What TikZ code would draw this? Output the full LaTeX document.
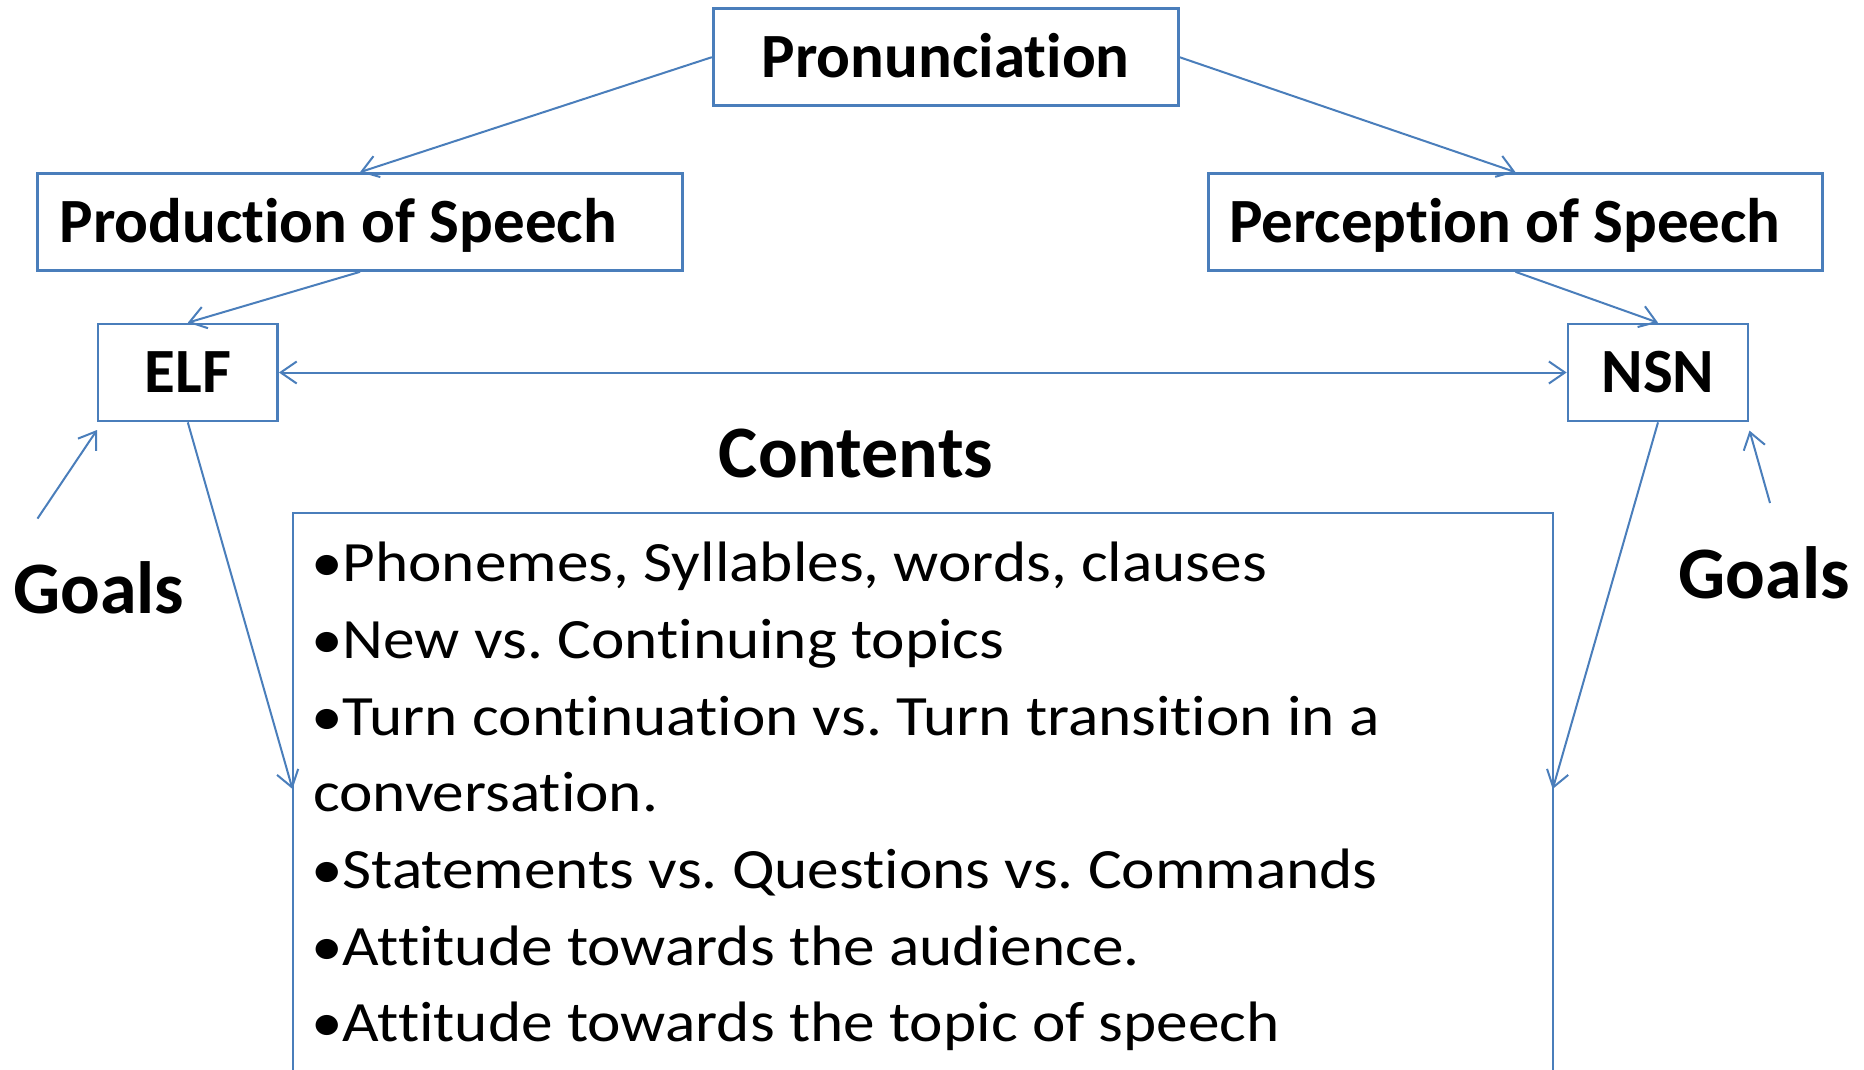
\documentclass[tikz,border=0pt]{standalone}
\usepackage{fontspec}
\setmainfont[Ligatures=NoCommon]{Carlito}
\newfontfamily\mybodyfam[Ligatures=NoCommon, FakeStretch=1.11]{Carlito}
\usetikzlibrary{arrows.meta}
\definecolor{lineblue}{RGB}{74,126,187}
\frenchspacing
\newcommand\myheadfont{\fontsize{63}{75}\selectfont\bfseries}
\newcommand\mybigfont{\fontsize{74}{88}\selectfont\bfseries}
\newcommand\mybodyfont{\mybodyfam\fontsize{57}{68}\selectfont}
\begin{document}
\begin{tikzpicture}[x=1pt,y=-1pt,
  box/.style={draw=lineblue, line width=2.7pt, minimum height=97pt, inner sep=0pt,
              font=\myheadfont, text height=40pt, text depth=0pt},
  conn/.style={draw=lineblue, line width=2pt, -{Straight Barb[length=16pt,width=22pt]}},
  dconn/.style={draw=lineblue, line width=2pt, {Straight Barb[length=16pt,width=22pt]}-{Straight Barb[length=16pt,width=22pt]}},
  bodyline/.style={font=\mybodyfont, anchor=base west, inner sep=0pt},
  bigtext/.style={font=\mybigfont, inner sep=0pt}
]
\useasboundingbox (0,0) rectangle (1864,1070);

\node[box, minimum width=465pt] (pron) at (945.7,57.2) {Pronunciation};
\node[box, minimum width=645pt, text width=601pt, inner xsep=22pt, align=flush left] (prod) at (360,222) {Production of Speech};
\node[box, minimum width=614pt, text width=573pt, inner xsep=20.5pt, align=flush left] (perc) at (1515.5,222) {Perception of Speech};
\node[box, minimum width=179.6pt] (elf) at (187.8,372.5) {ELF};
\node[box, minimum width=180pt] (nsn) at (1658,372.5) {NSN};

\node[draw=lineblue, line width=2pt, minimum width=1260pt, minimum height=590pt, inner sep=0pt, anchor=north] (cbox) at (922.6,512) {};

\node[bigtext, text height=46pt, text depth=0pt] (contents) at (856,454.6) {Contents};
\node[bigtext, anchor=base west] (goalsl) at (13,613.5) {Goals};
\node[bigtext, anchor=base east] (goalsr) at (1850,598) {Goals};

\node[bodyline] (l1) at (311,581) {•Phonemes, Syllables, words, clauses};
\node[bodyline] (l2) at (311,658) {•New vs. Continuing topics};
\node[bodyline] (l3) at (311,735) {•Turn continuation vs. Turn transition in a};
\node[bodyline] (l4) at (313,811.5) {conversation.};
\node[bodyline] (l5) at (311,888) {•Statements vs. Questions vs. Commands};
\node[bodyline] (l6) at (311,965) {•Attitude towards the audience.};
\node[bodyline] (l7) at (311,1041.6) {•Attitude towards the topic of speech};

\coordinate (cl) at (292.5,789);
\coordinate (cr) at (1552.7,789);
\coordinate (gls) at (37.5,518.6);
\coordinate (glt) at (97,430);
\coordinate (grs) at (1770,503);
\coordinate (grt) at (1749.5,430.6);

\draw[conn] (pron.west) -- (prod.north);
\draw[conn] (pron.east) -- (perc.north);
\draw[conn] (prod.south) -- (elf.north);
\draw[conn] (perc.south) -- (nsn.north);
\draw[dconn] (elf.east) -- (nsn.west);
\draw[conn] (elf.south) -- (cl);
\draw[conn] (nsn.south) -- (cr);
\draw[conn] (gls) -- (glt);
\draw[conn] (grs) -- (grt);
\end{tikzpicture}
\end{document}
